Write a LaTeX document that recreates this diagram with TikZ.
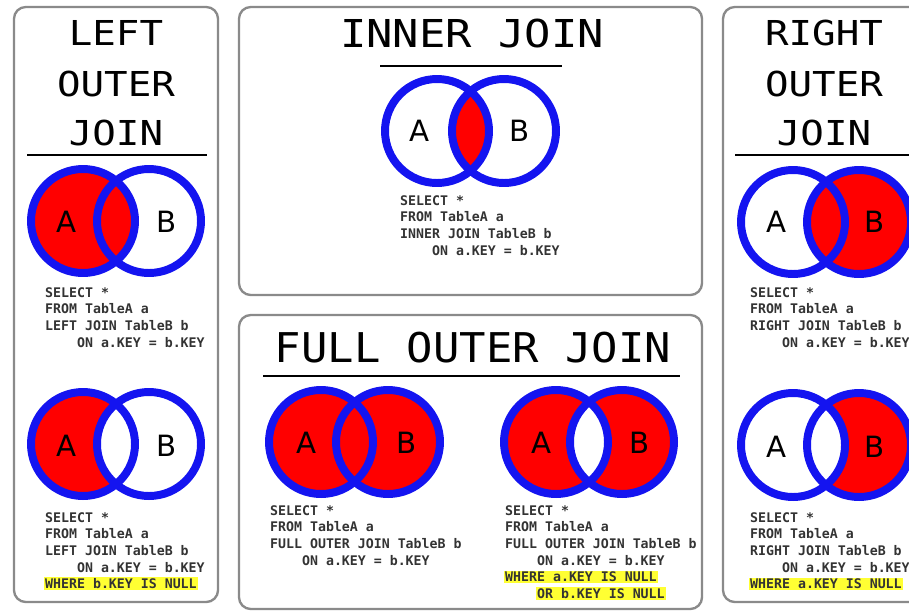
\documentclass[tikz,border=0pt]{standalone}
\usepackage{fontspec}
\usepackage{graphicx}
\newfontfamily\monof{DejaVu Sans Mono}
\newfontfamily\sansf{DejaVu Sans}
\definecolor{vblue}{HTML}{1414F0}
\definecolor{vred}{HTML}{FF0000}
\definecolor{hl}{HTML}{FFFF33}
\definecolor{panelgray}{HTML}{8A8A8A}
\definecolor{codegray}{HTML}{333333}
\newcommand\wideS[1]{\scalebox{1.14}[1]{#1}}
\newcommand\wideF[1]{\scalebox{1.07}[1]{#1}}
\newcommand\hlt[1]{{\setlength{\fboxsep}{1.2pt}\kern-1.2pt\colorbox{hl}{#1}}}
\newcommand\ind{\phantom{XXXX}}
\tikzset{
  panel/.style={draw=panelgray, line width=2pt, rounded corners=10pt, fill=white},
  titlerule/.style={line width=2.5pt, black},
  ring/.style={draw=vblue, line width=6.8pt},
  ttlS/.style={inner sep=0, font=\monof\fontsize{29.3}{35}\selectfont},
  ttlI/.style={inner sep=0, font=\monof\fontsize{32.8}{38}\selectfont},
  ttlF/.style={inner sep=0, font=\monof\fontsize{35}{40}\selectfont},
  vlabel/.style={inner sep=0, font=\sansf\fontsize{25}{30}\selectfont},
  code/.style={inner sep=0, anchor=north west, align=left, text=codegray,
    font=\monof\bfseries\fontsize{11.3}{14.25}\selectfont},
}
\begin{document}
\begin{tikzpicture}[x=0.03cm, y=-0.03cm]
\useasboundingbox (0,0) rectangle (909,610);
\clip (0,0) rectangle (909,610);
\fill[white] (0,0) rectangle (909,610);

% panels
\draw[panel] (14,7) rectangle (218,602);
\draw[panel] (239,7) rectangle (702,295);
\draw[panel] (239,315) rectangle (702,609);
\draw[panel] (723,7) rectangle (945,602);

% ---------- LEFT OUTER JOIN ----------
\node[ttlS] (lt1) at (116,33) {\wideS{LEFT}};
\node[ttlS] (lt2) at (116,84) {\wideS{OUTER}};
\node[ttlS] (lt3) at (116,133) {\wideS{JOIN}};
\draw[titlerule] (27,155) -- (207,155);

\fill[vred] (83,221) circle[radius=52];
\draw[ring] (83,221) circle[radius=52];
\draw[ring] (149,221) circle[radius=52];
\node[vlabel] (ltA) at (67,222) {A};
\node[vlabel] (ltB) at (167,222) {B};
\node[code] (ltc) at (45,287) {SELECT *\\FROM TableA a\\LEFT JOIN TableB b\\\ind ON a.KEY = b.KEY};

\fill[vred] (83,444) circle[radius=52];
\fill[white] (149,444) circle[radius=52];
\draw[ring] (83,444) circle[radius=52];
\draw[ring] (149,444) circle[radius=52];
\node[vlabel] (lbA) at (67,446) {A};
\node[vlabel] (lbB) at (167,446) {B};
\node[code] (lbc) at (45,512) {SELECT *\\FROM TableA a\\LEFT JOIN TableB b\\\ind ON a.KEY = b.KEY\\\hlt{WHERE b.KEY IS NULL}};

% ---------- INNER JOIN ----------
\node[ttlI] (ijt) at (472,34) {\wideS{INNER JOIN}};
\draw[titlerule] (380,66) -- (562,66);
\begin{scope}
  \clip (437,131) circle[radius=52];
  \fill[vred] (504,131) circle[radius=52];
\end{scope}
\draw[ring] (437,131) circle[radius=52];
\draw[ring] (504,131) circle[radius=52];
\node[vlabel] (ijA) at (420,131) {A};
\node[vlabel] (ijB) at (520,131) {B};
\node[code] (ijc) at (400,195) {SELECT *\\FROM TableA a\\INNER JOIN TableB b\\\ind ON a.KEY = b.KEY};

% ---------- FULL OUTER JOIN ----------
\node[ttlF] (fjt) at (473,348) {\wideF{FULL OUTER JOIN}};
\draw[titlerule] (263,376) -- (680,376);

\fill[vred] (321,442) circle[radius=52];
\fill[vred] (388,442) circle[radius=52];
\draw[ring] (321,442) circle[radius=52];
\draw[ring] (388,442) circle[radius=52];
\node[vlabel] (flA) at (307,443) {A};
\node[vlabel] (flB) at (407,443) {B};
\node[code] (flc) at (270,505) {SELECT *\\FROM TableA a\\FULL OUTER JOIN TableB b\\\ind ON a.KEY = b.KEY};

\fill[vred, even odd rule] (556,442) circle[radius=52] (622,442) circle[radius=52];
\draw[ring] (556,442) circle[radius=52];
\draw[ring] (622,442) circle[radius=52];
\node[vlabel] (frA) at (542,443) {A};
\node[vlabel] (frB) at (640,443) {B};
\node[code] (frc) at (505,505) {SELECT *\\FROM TableA a\\FULL OUTER JOIN TableB b\\\ind ON a.KEY = b.KEY\\\hlt{WHERE a.KEY IS NULL}\\\ind\hlt{OR b.KEY IS NULL}};

% ---------- RIGHT OUTER JOIN ----------
\node[ttlS] (rt1) at (824,33) {\wideS{RIGHT}};
\node[ttlS] (rt2) at (824,84) {\wideS{OUTER}};
\node[ttlS] (rt3) at (824,133) {\wideS{JOIN}};
\draw[titlerule] (735,155) -- (915,155);

\fill[vred] (859,222) circle[radius=52];
\draw[ring] (793,222) circle[radius=52];
\draw[ring] (859,222) circle[radius=52];
\node[vlabel] (rtA) at (777,222) {A};
\node[vlabel] (rtB) at (875,222) {B};
\node[code] (rtc) at (750,287) {SELECT *\\FROM TableA a\\RIGHT JOIN TableB b\\\ind ON a.KEY = b.KEY};

\fill[vred] (859,445) circle[radius=52];
\fill[white] (793,445) circle[radius=52];
\draw[ring] (793,445) circle[radius=52];
\draw[ring] (859,445) circle[radius=52];
\node[vlabel] (rbA) at (777,447) {A};
\node[vlabel] (rbB) at (875,447) {B};
\node[code] (rbc) at (750,512) {SELECT *\\FROM TableA a\\RIGHT JOIN TableB b\\\ind ON a.KEY = b.KEY\\\hlt{WHERE a.KEY IS NULL}};
\end{tikzpicture}
\end{document}
